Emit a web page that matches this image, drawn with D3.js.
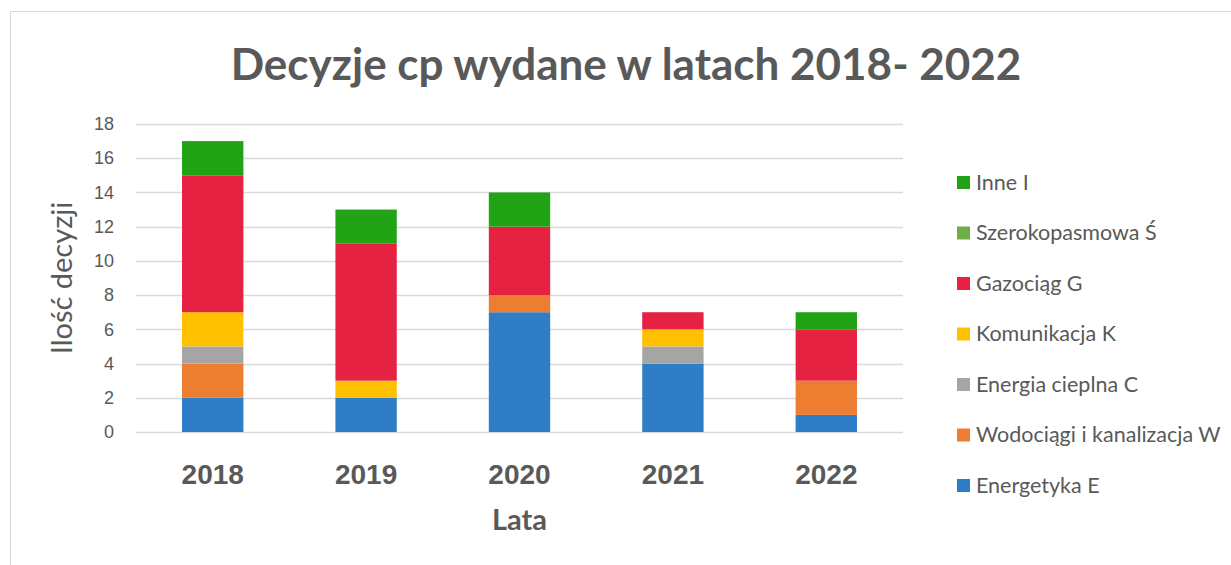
<!DOCTYPE html>
<html>
<head>
<meta charset="utf-8">
<script src="https://cdn.jsdelivr.net/npm/d3@7"></script>
<style>
  body { margin: 0; background: #fff; }
  svg { display: block; font-family: Lato, "Open Sans", sans-serif; }
</style>
</head>
<body>
<div id="chart"></div>
<script>
// chart values
const years = ["2018", "2019", "2020", "2021", "2022"];
const seriesNames = ["Energetyka E", "Wodociągi i kanalizacja W", "Energia cieplna C",
  "Komunikacja K", "Gazociąg G", "Szerokopasmowa Ś", "Inne I"];
const seriesColors = ["#2F7DC6", "#ED7D31", "#A5A5A5", "#FFC000", "#E62243", "#70AD47", "#22A316"];
const energetyka = [2, 2, 7, 4, 1];
const wodociagi = [2, 0, 1, 0, 2];
const cieplna = [1, 0, 0, 1, 0];
const komunikacja = [2, 1, 0, 1, 0];
const gazociag = [8, 8, 4, 1, 3];
const szerokopasmowa = [0, 0, 0, 0, 0];
const inne = [2, 2, 2, 0, 1];
const yTicks = [0, 2, 4, 6, 8, 10, 12, 14, 16, 18];

const width = 1231, height = 565;
const margin = { top: 124, right: 328, bottom: 133, left: 136 };

const allSeries = [energetyka, wodociagi, cieplna, komunikacja, gazociag, szerokopasmowa, inne];
const table = years.map((y, i) => {
  const row = { year: y };
  seriesNames.forEach((s, j) => row[s] = allSeries[j][i]);
  return row;
});
const stacked = d3.stack().keys(seriesNames)(table);

const svg = d3.select("#chart").append("svg")
  .attr("width", width)
  .attr("height", height);

// chart frame
svg.append("rect")
  .attr("x", 10.5).attr("y", 11.5)
  .attr("width", width).attr("height", height)
  .attr("fill", "none")
  .attr("stroke", "#d9d9d9");

const x = d3.scaleBand()
  .domain(years)
  .range([margin.left, width - margin.right])
  .paddingInner(0.6)
  .paddingOuter(0.3);

const y = d3.scaleLinear()
  .domain([0, 18])
  .range([height - margin.bottom, margin.top]);

// gridlines
svg.append("g")
  .selectAll("line")
  .data(yTicks)
  .join("line")
  .attr("x1", margin.left).attr("x2", width - margin.right)
  .attr("y1", d => Math.round(y(d)) + 0.5).attr("y2", d => Math.round(y(d)) + 0.5)
  .attr("stroke", "#d9d9d9")
  .attr("stroke-width", 1.3);

// y axis labels
const yAxis = svg.append("g")
  .attr("transform", `translate(${margin.left - 22},0)`)
  .call(d3.axisLeft(y).tickValues(yTicks).tickSize(0).tickPadding(0));
yAxis.select(".domain").remove();
yAxis.selectAll("text")
  .attr("fill", "#595959")
  .attr("font-size", 18);

// bars
svg.append("g")
  .selectAll("g")
  .data(stacked)
  .join("g")
  .attr("fill", (d, i) => seriesColors[i])
  .selectAll("rect")
  .data(d => d)
  .join("rect")
  .attr("x", d => x(d.data.year))
  .attr("y", d => y(d[1]))
  .attr("width", x.bandwidth())
  .attr("height", d => y(d[0]) - y(d[1]));

// x axis labels
const xAxis = svg.append("g")
  .attr("transform", `translate(0,${height - margin.bottom})`)
  .call(d3.axisBottom(x).tickSize(0).tickPadding(0));
xAxis.select(".domain").remove();
xAxis.selectAll("text")
  .attr("y", 52)
  .attr("dy", null)
  .attr("fill", "#595959")
  .attr("font-size", 28)
  .attr("font-weight", "bold");

// axis titles
svg.append("text")
  .attr("x", (margin.left + width - margin.right) / 2)
  .attr("y", 530)
  .attr("text-anchor", "middle")
  .attr("fill", "#595959")
  .attr("font-size", 29)
  .attr("font-weight", "bold")
  .text("Lata");

svg.append("text")
  .attr("transform", `translate(72,${(y(0) + y(18)) / 2}) rotate(-90)`)
  .attr("text-anchor", "middle")
  .attr("fill", "#595959")
  .attr("font-size", 29)
  .text("Ilość decyzji");

// title
svg.append("text")
  .attr("x", 626)
  .attr("y", 80)
  .attr("text-anchor", "middle")
  .attr("fill", "#595959")
  .attr("font-size", 44)
  .attr("font-weight", "bold")
  .text("Decyzje cp wydane w latach 2018- 2022");

// legend (reverse order, top to bottom)
const legend = svg.append("g")
  .selectAll("g")
  .data(seriesNames.map((s, i) => ({ name: s, color: seriesColors[i] })).reverse())
  .join("g")
  .attr("transform", (d, i) => `translate(957,${182 + i * 50.5})`);
legend.append("rect")
  .attr("x", 0).attr("y", -6)
  .attr("width", 13).attr("height", 13)
  .attr("fill", d => d.color);
legend.append("text")
  .attr("x", 19).attr("y", 0)
  .attr("dy", "0.35em")
  .attr("fill", "#595959")
  .attr("font-size", 21.5)
  .text(d => d.name);
</script>
</body>
</html>
